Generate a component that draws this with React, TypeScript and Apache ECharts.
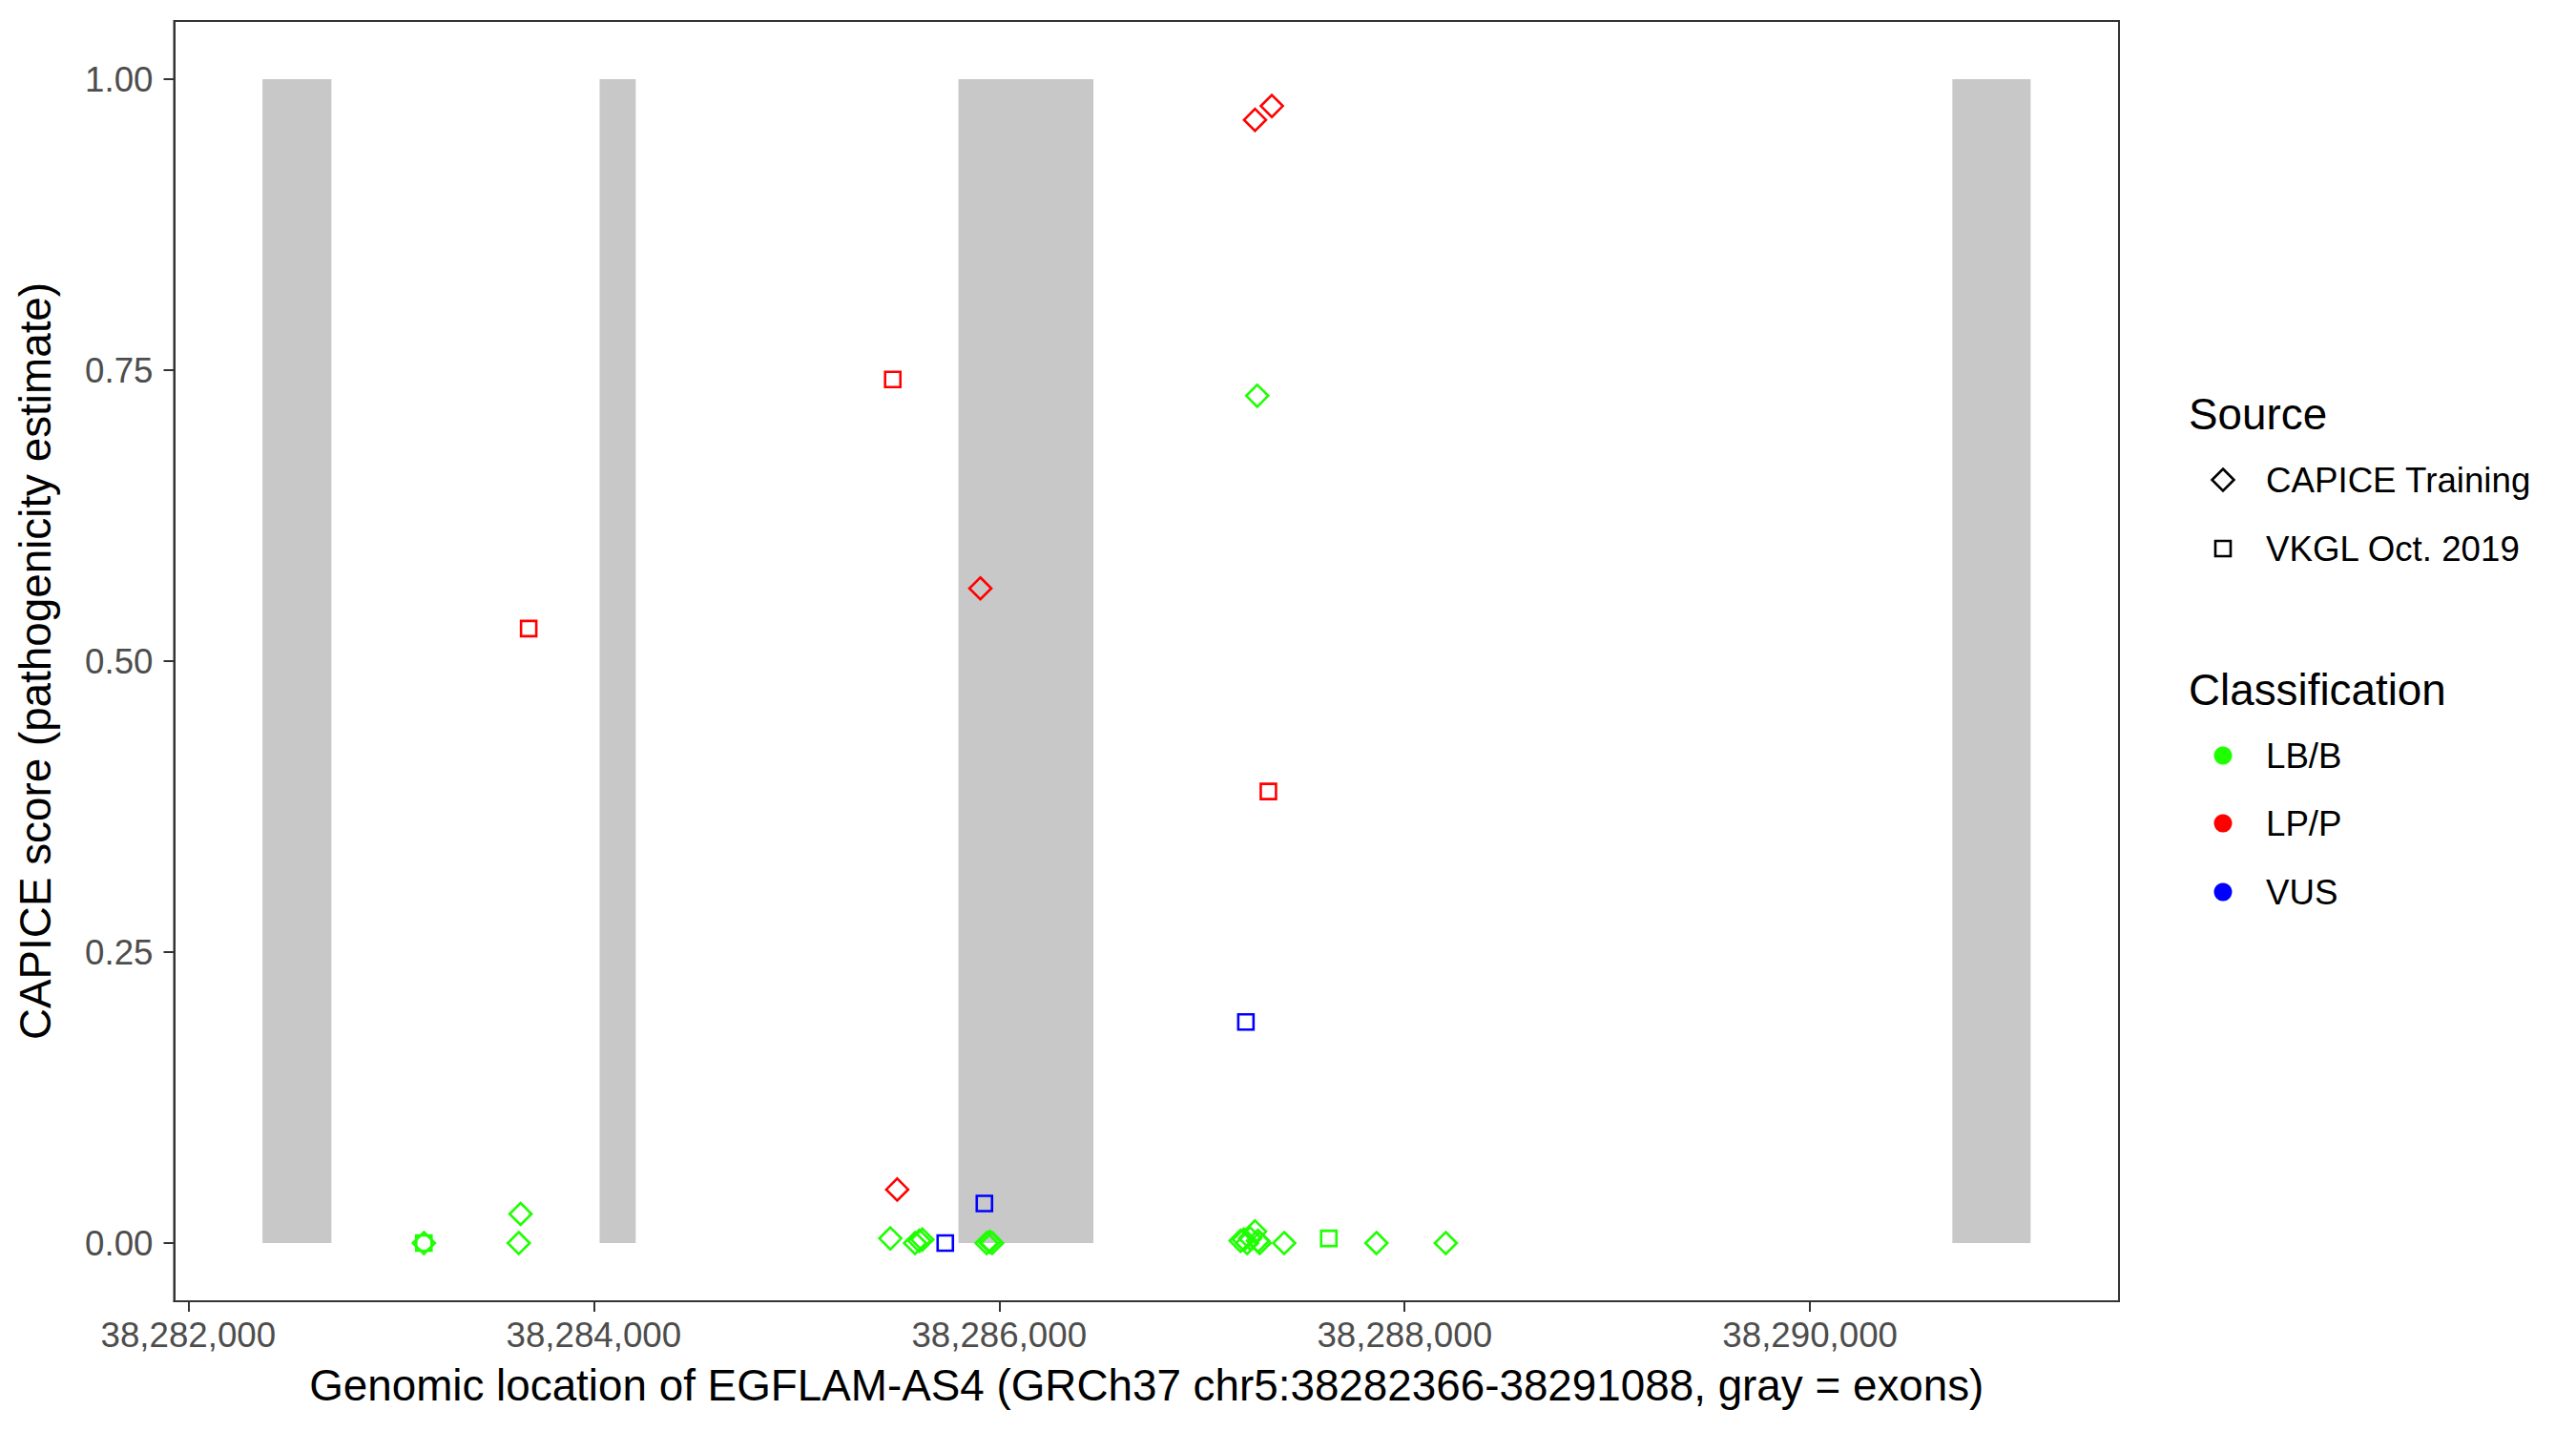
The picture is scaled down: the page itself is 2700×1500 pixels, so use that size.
import React, { useEffect, useRef } from "react";
import * as echarts from "echarts";

// ---- data ----
const exonStarts = [38282366, 38284029, 38285799, 38290702];
const exonEnds = [38282706, 38284207, 38286465, 38291088];

const xTicks = [38282000, 38284000, 38286000, 38288000, 38290000];
const yTicks = [0, 0.25, 0.5, 0.75, 1];

// CAPICE Training (diamonds)
const capiceBenign: [number, number][] = [
  [38283162, 0],
  [38283639, 0.025],
  [38283630, 0],
  [38285463, 0.004],
  [38285585, 0],
  [38285606, 0.002],
  [38285621, 0.003],
  [38285938, 0],
  [38285953, 0.001],
  [38285965, 0],
  [38287191, 0.002],
  [38287207, 0.003],
  [38287223, 0],
  [38287238, 0.004],
  [38287262, 0.01],
  [38287277, 0.002],
  [38287285, 0],
  [38287273, 0.728],
  [38287406, 0],
  [38287861, 0],
  [38288203, 0],
];
const capicePathogenic: [number, number][] = [
  [38285497, 0.046],
  [38285907, 0.5625],
  [38287262, 0.965],
  [38287345, 0.977],
];
// VKGL Oct. 2019 (squares)
const vkglBenign: [number, number][] = [
  [38283162, 0],
  [38287626, 0.004],
];
const vkglPathogenic: [number, number][] = [
  [38283679, 0.528],
  [38285475, 0.742],
  [38287328, 0.388],
];
const vkglVus: [number, number][] = [
  [38285734, 0],
  [38285927, 0.034],
  [38287217, 0.19],
];

const sourceLabels = ["CAPICE Training", "VKGL Oct. 2019"];
const classLabels = ["LB/B", "LP/P", "VUS"];

const xMin = 38281930;
const xMax = 38291524;

const GREEN = "#1eff00";
const RED = "#ff0000";
const BLUE = "#0000ff";
const FONT = "'Liberation Sans', Arial, Helvetica, sans-serif";

export default function App() {
  const ref = useRef<HTMLDivElement>(null);
  useEffect(() => {
    document.body.style.margin = "0";
    const chart = echarts.init(ref.current!, null, { renderer: "svg" });

    const pointSeries = (
      name: string,
      data: [number, number][],
      symbol: string,
      size: number,
      color: string
    ) => ({
      type: "scatter",
      name,
      data,
      symbol,
      symbolSize: size,
      z: 5,
      silent: true,
      itemStyle: {
        color: "rgba(0,0,0,0)",
        borderColor: color,
        borderWidth: 2.6,
        opacity: 1,
      },
    });

    const legendX = 2294;
    const symX = 2330;
    const textX = 2375;
    const rowsSrc = [503, 575];
    const rowsCls = [792, 863, 935];
    const clsColors = [GREEN, RED, BLUE];

    const graphic: any[] = [
      {
        type: "text",
        x: legendX,
        y: 434,
        style: { text: "Source", fontSize: 45.8, fontFamily: FONT, fill: "#000", verticalAlign: "middle" },
      },
      {
        type: "polygon",
        shape: {
          points: [
            [symX, rowsSrc[0] - 11.5],
            [symX + 11.5, rowsSrc[0]],
            [symX, rowsSrc[0] + 11.5],
            [symX - 11.5, rowsSrc[0]],
          ],
        },
        style: { fill: "none", stroke: "#000", lineWidth: 2.6 },
      },
      {
        type: "rect",
        shape: { x: symX - 8, y: rowsSrc[1] - 8, width: 16, height: 16 },
        style: { fill: "none", stroke: "#000", lineWidth: 2.6 },
      },
      ...sourceLabels.map((t, i) => ({
        type: "text",
        x: textX,
        y: rowsSrc[i],
        style: { text: t, fontSize: 36.7, fontFamily: FONT, fill: "#000", verticalAlign: "middle" },
      })),
      {
        type: "text",
        x: legendX,
        y: 723,
        style: { text: "Classification", fontSize: 45.8, fontFamily: FONT, fill: "#000", verticalAlign: "middle" },
      },
      ...classLabels.map((t, i) => ({
        type: "circle",
        shape: { cx: symX, cy: rowsCls[i], r: 9.5 },
        style: { fill: clsColors[i] },
      })),
      ...classLabels.map((t, i) => ({
        type: "text",
        x: textX,
        y: rowsCls[i],
        style: { text: t, fontSize: 36.7, fontFamily: FONT, fill: "#000", verticalAlign: "middle" },
      })),
    ];

    chart.setOption({
      animation: false,
      backgroundColor: "#ffffff",
      textStyle: { fontFamily: FONT },
      grid: {
        left: 182.5,
        right: 479,
        top: 22,
        bottom: 136,
        show: true,
        borderColor: "#333333",
        borderWidth: 2,
        backgroundColor: "rgba(0,0,0,0)",
        containLabel: false,
        outerBoundsMode: "none",
      },
      xAxis: {
        type: "value",
        min: xMin,
        max: xMax,
        splitLine: { show: false },
        axisLine: { show: true, onZero: false, lineStyle: { color: "#333333", width: 2 } },
        axisTick: {
          show: true,
          length: 11,
          customValues: xTicks,
          lineStyle: { color: "#333333", width: 2 },
        },
        axisLabel: {
          customValues: xTicks,
          formatter: (v: number) => Number(v).toLocaleString("en-US"),
          fontSize: 36.7,
          color: "#4D4D4D",
          fontFamily: FONT,
          margin: 17,
        },
        name: "Genomic location of EGFLAM-AS4 (GRCh37 chr5:38282366-38291088, gray = exons)",
        nameLocation: "middle",
        nameGap: 65,
        nameTextStyle: { fontSize: 45.8, color: "#000", fontFamily: FONT },
      },
      yAxis: {
        type: "value",
        min: -0.05,
        max: 1.05,
        splitLine: { show: false },
        axisLine: { show: true, onZero: false, lineStyle: { color: "#333333", width: 2 } },
        axisTick: {
          show: true,
          length: 11,
          customValues: yTicks,
          lineStyle: { color: "#333333", width: 2 },
        },
        axisLabel: {
          customValues: yTicks,
          formatter: (v: number) => Number(v).toFixed(2),
          fontSize: 36.7,
          color: "#4D4D4D",
          fontFamily: FONT,
          margin: 22,
        },
        name: "CAPICE score (pathogenicity estimate)",
        nameLocation: "middle",
        nameGap: 122,
        nameTextStyle: { fontSize: 45.8, color: "#000", fontFamily: FONT },
      },
      graphic,
      series: [
        {
          type: "custom",
          silent: true,
          z: 1,
          data: exonStarts.map((s, i) => [s, exonEnds[i], 0, 1]),
          encode: { x: [0, 1], y: [2, 3] },
          renderItem: (params: any, api: any) => {
            const p0 = api.coord([api.value(0), api.value(3)]);
            const p1 = api.coord([api.value(1), api.value(2)]);
            return {
              type: "rect",
              shape: { x: p0[0], y: p0[1], width: p1[0] - p0[0], height: p1[1] - p0[1] },
              style: { fill: "#C8C8C8" },
            };
          },
        },
        pointSeries("CAPICE Training LB/B", capiceBenign, "diamond", 23, GREEN),
        pointSeries("CAPICE Training LP/P", capicePathogenic, "diamond", 23, RED),
        pointSeries("VKGL Oct. 2019 LB/B", vkglBenign, "rect", 16, GREEN),
        pointSeries("VKGL Oct. 2019 LP/P", vkglPathogenic, "rect", 16, RED),
        pointSeries("VKGL Oct. 2019 VUS", vkglVus, "rect", 16, BLUE),
      ],
    });
    return () => chart.dispose();
  }, []);
  return <div ref={ref} style={{ width: 2700, height: 1500 }} />;
}
